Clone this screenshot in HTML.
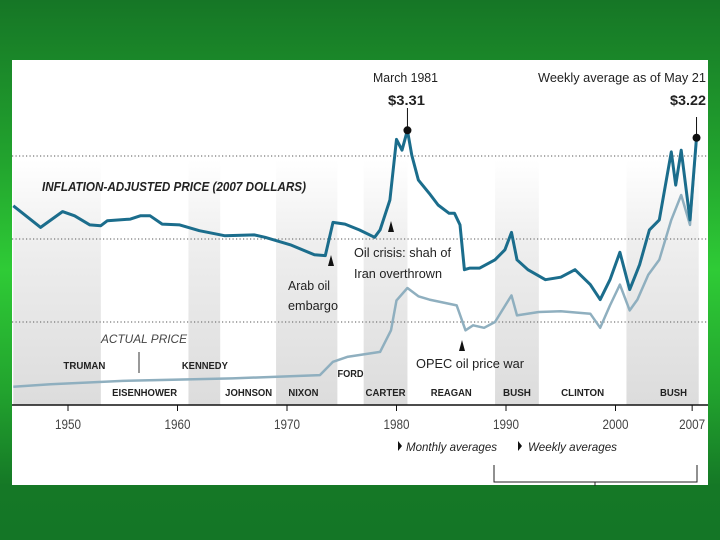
<!DOCTYPE html>
<html><head><meta charset="utf-8">
<style>
html,body{margin:0;padding:0;width:720px;height:540px;overflow:hidden;background:linear-gradient(180deg,#167626 0%,#22a42e 30%,#2fcb36 50%,#22a42e 72%,#157826 90%,#147626 100%);}
svg{position:absolute;left:0;top:0;font-family:"Liberation Sans",sans-serif;}
</style></head><body>
<svg id="chart" width="720" height="540">
<defs><linearGradient id="band" x1="0" y1="0" x2="0" y2="1"><stop offset="0" stop-color="#ffffff"/><stop offset="0.35" stop-color="#eeeeee"/><stop offset="1" stop-color="#dcdcdc"/></linearGradient></defs>
<rect x="12" y="60" width="696" height="425" fill="#ffffff"/>
<g id="bands"></g><g id="grid"></g><g id="labels"></g><g id="series"></g><g id="axis"></g>
<g fill="#222">
<text x="373" y="82" font-size="13" textLength="65" lengthAdjust="spacingAndGlyphs">March 1981</text>
<text x="388" y="105" font-size="14" font-weight="bold" textLength="37" lengthAdjust="spacingAndGlyphs">$3.31</text>
<text x="538" y="82" font-size="13" textLength="168" lengthAdjust="spacingAndGlyphs">Weekly average as of May 21</text>
<text x="670" y="105" font-size="14" font-weight="bold" textLength="36" lengthAdjust="spacingAndGlyphs">$3.22</text>
<text x="42" y="191" font-size="12.5" font-weight="bold" font-style="italic" textLength="264" lengthAdjust="spacingAndGlyphs">INFLATION-ADJUSTED PRICE (2007 DOLLARS)</text>
<text x="288" y="290" font-size="13" textLength="42" lengthAdjust="spacingAndGlyphs">Arab oil</text>
<text x="288" y="310" font-size="13" textLength="50" lengthAdjust="spacingAndGlyphs">embargo</text>
<polygon points="331,255 328,266 334,266" fill="#111"/>
<text x="354" y="257" font-size="13" textLength="97" lengthAdjust="spacingAndGlyphs">Oil crisis: shah of</text>
<text x="354" y="278" font-size="13" textLength="88" lengthAdjust="spacingAndGlyphs">Iran overthrown</text>
<polygon points="391,221 388,232 394,232" fill="#111"/>
<text x="101" y="343" font-size="12" font-style="italic" fill="#444" textLength="86" lengthAdjust="spacingAndGlyphs">ACTUAL PRICE</text>
<line x1="139" y1="352" x2="139" y2="373" stroke="#333" stroke-width="1"/>
<text x="416" y="368" font-size="13" textLength="108" lengthAdjust="spacingAndGlyphs">OPEC oil price war</text>
<polygon points="462,340 459,351 465,351" fill="#111"/>
<polygon points="398,441 402,446 398,451" fill="#111"/>
<text x="406" y="451" font-size="12" font-style="italic" textLength="91" lengthAdjust="spacingAndGlyphs">Monthly averages</text>
<polygon points="518,441 522,446 518,451" fill="#111"/>
<text x="528" y="451" font-size="12" font-style="italic" textLength="89" lengthAdjust="spacingAndGlyphs">Weekly averages</text>
<path d="M494,465 V482 H697 V465 M595,482 V486" fill="none" stroke="#222" stroke-width="1"/>
</g>
</svg>
<script>
const NS='http://www.w3.org/2000/svg';
const realYears=[1945,1947.5,1949.5,1950.6,1952,1953,1953.6,1955.7,1956.6,1957.5,1958.6,1960.2,1962,1964.3,1967,1968,1970.3,1972.5,1973.5,1974.2,1975.3,1976.6,1978,1978.5,1979.4,1980,1980.5,1981,1981.4,1982,1983,1983.8,1984.8,1985.3,1985.8,1986.2,1986.7,1987.6,1989,1989.9,1990.5,1991,1992,1993.6,1995,1996.3,1997.7,1998.6,1999.5,2000.4,2001.3,2002.2,2003.1,2004,2005.1,2005.5,2006,2006.8,2007.4];
const realPrices=[2.40,2.14,2.33,2.28,2.17,2.16,2.22,2.24,2.28,2.28,2.18,2.17,2.10,2.04,2.05,2.02,1.93,1.81,1.80,2.20,2.18,2.11,2.02,2.11,2.47,3.20,3.07,3.31,3.01,2.71,2.55,2.41,2.31,2.31,2.17,1.63,1.65,1.65,1.75,1.87,2.08,1.75,1.63,1.51,1.54,1.63,1.45,1.27,1.51,1.84,1.39,1.69,2.11,2.23,3.05,2.65,3.07,2.23,3.22];
const actYears=[1945,1948.4,1955,1965,1973,1974.2,1975.5,1978.5,1979.5,1980,1981,1982,1983,1985.5,1986.3,1987,1988,1989,1990.5,1991,1993,1995,1997.7,1998.6,1999.5,2000.4,2001.3,2002,2003,2004,2005.1,2006,2006.8,2007.4];
const actPrices=[0.22,0.25,0.29,0.32,0.36,0.52,0.58,0.64,0.90,1.26,1.41,1.31,1.27,1.20,0.90,0.96,0.93,1.00,1.32,1.08,1.12,1.13,1.10,0.93,1.20,1.45,1.14,1.27,1.57,1.75,2.23,2.53,2.17,3.22];
const tickYears=[1950,1960,1970,1980,1990,2000,2007];
const gridValues=[1,2,3];
const bandStarts=[1945,1961,1969,1977,1989,2001];
const bandEnds=[1953,1963.9,1974.6,1981,1993,2007.6];
const presNames=['TRUMAN','EISENHOWER','KENNEDY','JOHNSON','NIXON','FORD','CARTER','REAGAN','BUSH','CLINTON','BUSH'];
const presCenters=[1951.5,1957,1962.5,1966.5,1971.5,1975.8,1979,1985,1991,1997,2005.3];
const presRows=[0,1,0,1,1,2,1,1,1,1,1];
const presWidths=[42,65,46,47,30,26,40,41,28,43,27];
const x=y=>68+(y-1950)*10.95;
const yv=v=>405-83*v;
function el(t,a,p){const e=document.createElementNS(NS,t);for(const k in a)e.setAttribute(k,a[k]);document.getElementById(p).appendChild(e);return e;}
bandStarts.forEach((s,i)=>{const e=el('rect',{x:Math.max(12,x(s)),y:160,width:x(bandEnds[i])-Math.max(12,x(s)),height:245,fill:'url(#band)'},'bands');

});
gridValues.forEach(v=>{const e=el('line',{x1:12,x2:708,y1:yv(v),y2:yv(v),stroke:'#777','stroke-width':1.2,'stroke-dasharray':'1.2,2.3'},'grid');

});
const rowY=[369,396,377];
presNames.forEach((n,i)=>{const t=el('text',{x:x(presCenters[i]),y:rowY[presRows[i]],'font-size':10,'font-weight':'bold','text-anchor':'middle',fill:'#222',textLength:presWidths[i],lengthAdjust:'spacingAndGlyphs'},'labels');t.textContent=n;

});
function line(xs,vs,c,w,n){const d=xs.map((yr,i)=>(i?'L':'M')+x(yr).toFixed(1)+','+yv(vs[i]).toFixed(1)).join('');
const p=el('path',{d:d,fill:'none',stroke:c,'stroke-width':w,'stroke-linejoin':'round'},'series');

}
line(actYears,actPrices,'#8fafbf',2.5,'actual-price-line');
line(realYears,realPrices,'#1b6d8c',3,'inflation-adjusted-line');
const pk=el('circle',{cx:x(1981),cy:yv(3.31),r:4,fill:'#111'},'series');


el('line',{x1:x(1981),x2:x(1981),y1:108,y2:yv(3.31),stroke:'#111'},'series');
const lt=el('circle',{cx:x(2007.4),cy:yv(3.22),r:4,fill:'#111'},'series');


el('line',{x1:x(2007.4),x2:x(2007.4),y1:117,y2:yv(3.22),stroke:'#111'},'series');
const ax=el('line',{x1:12,x2:708,y1:405,y2:405,stroke:'#111','stroke-width':1.5},'axis');


tickYears.forEach(t=>{el('line',{x1:x(t),x2:x(t),y1:405,y2:411,stroke:'#111'},'axis');
const tx=el('text',{x:x(t),y:429,'font-size':14,'text-anchor':'middle',fill:'#444',textLength:26,lengthAdjust:'spacingAndGlyphs'},'axis');tx.textContent=t;

});
</script>
</body></html>
